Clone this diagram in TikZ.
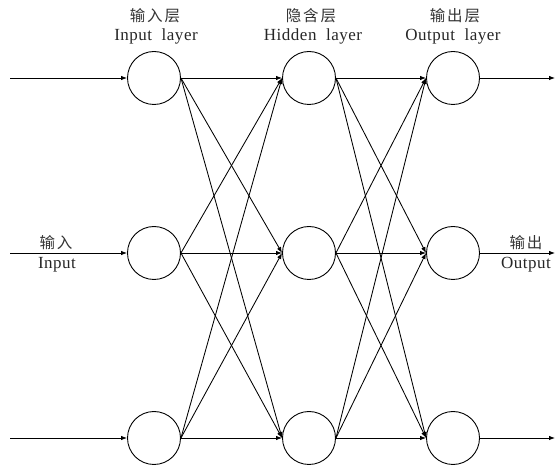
\documentclass[tikz,border=0pt]{standalone}
\usepackage{fontspec}
\setmainfont{Liberation Serif}[LetterSpace=3]
\newfontfamily\cjk{Noto Sans CJK SC}[LetterSpace=12]
\usetikzlibrary{arrows.meta}
\tikzset{
  neuron/.style={draw, circle, minimum size=53pt, inner sep=0pt, line width=0.9pt},
  link/.style={line width=0.85pt, -{Latex[length=6pt,width=4.5pt]}},
  cnlabel/.style={font=\fontsize{15.5}{17}\selectfont\cjk, text=black!80, inner sep=0pt},
  enlabel/.style={font=\fontsize{17}{19}\selectfont, text=black!85, inner sep=0pt}
}
\begin{document}
\begin{tikzpicture}[x=1pt,y=1pt]
\useasboundingbox (0,0) rectangle (555,-470);
% layer titles
\node[cnlabel] (tin)   at (155,-16) {输入层};
\node[enlabel] (tin2)  at (156,-36) {Input\ \ layer};
\node[cnlabel] (thid)  at (311,-16) {隐含层};
\node[enlabel] (thid2) at (313,-36) {Hidden\ \ layer};
\node[cnlabel] (tout)  at (455,-16) {输出层};
\node[enlabel] (tout2) at (453,-36) {Output\ \ layer};
% input layer
\node[neuron] (in1) at (154,-78) {};
\node[neuron] (in2) at (154,-253) {};
\node[neuron] (in3) at (154,-438) {};
% hidden layer
\node[neuron] (hid1) at (309,-78) {};
\node[neuron] (hid2) at (309,-253) {};
\node[neuron] (hid3) at (309,-438) {};
% output layer
\node[neuron] (out1) at (453,-78) {};
\node[neuron] (out2) at (453,-253) {};
\node[neuron] (out3) at (453,-438) {};
% free ends
\coordinate (x1) at (10,-78);
\coordinate (x2) at (10,-253);
\coordinate (x3) at (10,-438);
\coordinate (y1) at (555,-78);
\coordinate (y2) at (555,-253);
\coordinate (y3) at (555,-438);
% inputs
\draw[link] (x1) -- (in1.west);
\draw[link] (x2) -- (in2.west);
\draw[link] (x3) -- (in3.west);
\node[cnlabel] (lin)  at (56,-243) {输入};
\node[enlabel] (lin2) at (57,-265) {Input};
% input -> hidden
\draw[link] (in1.east) -- (hid1.west);
\draw[link] (in1.east) -- (hid2.west);
\draw[link] (in1.east) -- (hid3.west);
\draw[link] (in2.east) -- (hid1.west);
\draw[link] (in2.east) -- (hid2.west);
\draw[link] (in2.east) -- (hid3.west);
\draw[link] (in3.east) -- (hid1.west);
\draw[link] (in3.east) -- (hid2.west);
\draw[link] (in3.east) -- (hid3.west);
% hidden -> output
\draw[link] (hid1.east) -- (out1.west);
\draw[link] (hid1.east) -- (out2.west);
\draw[link] (hid1.east) -- (out3.west);
\draw[link] (hid2.east) -- (out1.west);
\draw[link] (hid2.east) -- (out2.west);
\draw[link] (hid2.east) -- (out3.west);
\draw[link] (hid3.east) -- (out1.west);
\draw[link] (hid3.east) -- (out2.west);
\draw[link] (hid3.east) -- (out3.west);
% outputs
\draw[link] (out1.east) -- (y1);
\draw[link] (out2.east) -- (y2);
\draw[link] (out3.east) -- (y3);
\node[cnlabel] (lout)  at (526,-243) {输出};
\node[enlabel] (lout2) at (526,-265) {Output};
\end{tikzpicture}
\end{document}
